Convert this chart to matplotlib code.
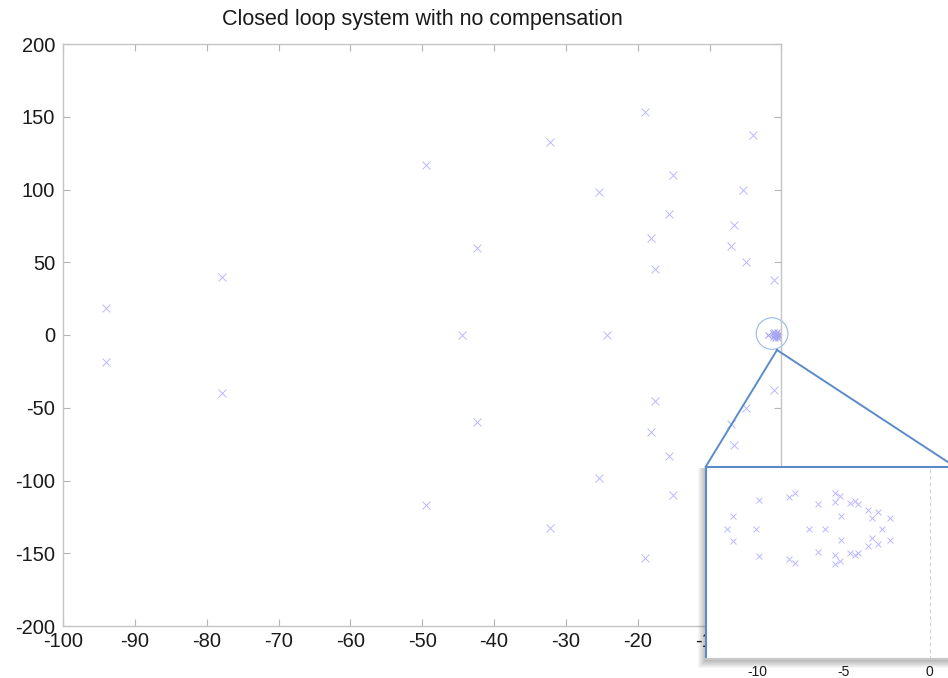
import matplotlib
matplotlib.use('Agg')
import matplotlib.pyplot as plt
from matplotlib.patches import Ellipse, Rectangle
from matplotlib.lines import Line2D

plt.rcParams['font.family'] = ['Liberation Sans', 'DejaVu Sans']
plt.rcParams['axes.unicode_minus'] = False

pole_re = [-94.0, -94.0, -77.9, -77.9, -49.5, -49.5, -42.4, -42.4, -44.4,
           -32.2, -32.2, -19.0, -19.0, -4.0, -4.0, -15.1, -15.1, -25.4, -25.4,
           -5.4, -5.4, -15.6, -15.6, -6.6, -6.6, -18.1, -18.1, -7.0, -7.0,
           -4.9, -4.9, -17.6, -17.6, -1.0, -1.0, -24.3]
pole_im = [18.7, -18.7, 40.0, -40.0, 117.0, -117.0, 59.9, -59.9, 0.0,
           132.5, -132.5, 153.6, -153.6, 137.3, -137.3, 110.3, -110.3, 98.6, -98.6,
           99.8, -99.8, 83.5, -83.5, 75.3, -75.3, 67.0, -67.0, 61.3, -61.3,
           50.3, -50.3, 45.7, -45.7, 37.5, -37.5, 0.0]

# poles crowded near the origin (inside the circle)
near_re = [-1.8, -1.2, -1.1, -1.0, -0.9, -0.8, -0.7, -0.6, -0.5, -0.4, -0.3, -1.0, -0.6]
near_im = [0.0, 1.5, -1.5, 2.0, -2.0, 1.0, -1.0, 2.0, -2.0, 0.8, -0.8, 0.0, 0.0]

# magnified view in the inset
zoom_re = [-9.88, -8.14, -7.83, -6.46, -5.47, -5.22, -5.47, -4.60, -4.31, -4.18,
           -5.16, -3.60, -2.98, -3.35, -2.30, -11.39,
           -11.74, -10.08, -6.98, -6.09, -2.75,
           -11.39, -9.88, -8.14, -7.83, -6.46, -5.47, -5.47, -5.22, -4.60, -4.31,
           -4.18, -5.16, -3.60, -2.98, -3.35, -2.30]
zoom_im = [1.66, 1.82, 2.07, 1.41, 2.07, 1.88, 1.53, 1.49, 1.62, 1.43,
           0.72, 1.08, 0.97, 0.64, 0.64, 0.72,
           0.0, 0.0, 0.0, 0.0, 0.0,
           -0.70, -1.60, -1.78, -1.97, -1.33, -1.55, -2.05, -1.86, -1.39, -1.55,
           -1.41, -0.64, -1.02, -0.89, -0.56, -0.64]

x_ticks = list(range(-100, 1, 10))
y_ticks = list(range(-200, 201, 50))
inset_ticks = [-10, -5, 0]

W, H = 948, 678
mark = '#b9b9ff'
frame = '#5b8cc9'

fig = plt.figure(figsize=(W / 100, H / 100), dpi=100)

def fx(px):
    return px / W

def fy(py):
    return 1 - py / H

ax = fig.add_axes([fx(63), fy(626), 718.4 / W, 582 / H])
ax.plot(pole_re, pole_im, 'x', color=mark, ms=5.5, mew=0.7, ls='none')
ax.plot(near_re, near_im, 'x', color='#a6a6f5', ms=5, mew=0.8, ls='none')
ax.set_xlim(-100, 0)
ax.set_ylim(-200, 200)
ax.set_xticks(x_ticks)
ax.set_yticks(y_ticks)
ax.tick_params(direction='in', top=True, right=True, length=5, width=0.8,
               color='#b5b5b5', labelsize=14.5, labelcolor='#1a1a1a')
ax.tick_params(axis='x', pad=4.5)
ax.tick_params(axis='y', pad=5.5)
for s in ax.spines.values():
    s.set_color('#c4c4c4')
    s.set_linewidth(1.0)
ax.set_title('Closed loop system with no compensation', fontsize=15.5, pad=14,
             color='#1a1a1a')

# magnifier circle
ax.add_patch(Ellipse((-1.3, 1.0), 4.4, 21.7, fill=False, ec='#a5c0e6', lw=0.9,
                     clip_on=False))

# connector lines from circle to inset corners
fig.add_artist(Line2D([fx(777), fx(705.7)], [fy(350), fy(466.7)],
                      transform=fig.transFigure, color=frame, lw=1.4, zorder=2))
fig.add_artist(Line2D([fx(777), fx(955)], [fy(350), fy(466.7)],
                      transform=fig.transFigure, color=frame, lw=1.4, zorder=2))

# soft shadow on the left and below the inset
for i in range(1, 9):
    fig.add_artist(Rectangle((fx(705.7 - i), fy(659 + i + 1)),
                             (955 - 705.7 + 2 * i) / W, (659 - 466.7 + i) / H,
                             transform=fig.transFigure, color='black',
                             alpha=0.035, lw=0, zorder=3))

axins = fig.add_axes([fx(705.7), fy(659), (955 - 705.7) / W, (659 - 466.7) / H])
axins.set_zorder(5)
axins.set_facecolor('white')
axins.plot(zoom_re, zoom_im, 'x', color=mark, ms=4.5, mew=0.7, ls='none')
axins.axvline(0, color='#cfcfcf', ls=(0, (3, 3)), lw=0.8)
axins.set_xlim(-13.0, 1.47)
axins.set_ylim(-7.56, 3.6)
axins.set_xticks(inset_ticks)
axins.set_yticks([])
axins.tick_params(axis='x', length=0, pad=4, labelsize=10, labelcolor='#1a1a1a')
axins.spines['top'].set_color(frame)
axins.spines['left'].set_color(frame)
axins.spines['right'].set_color(frame)
axins.spines['bottom'].set_color('#c8c8c8')
for s in axins.spines.values():
    s.set_linewidth(1.5)

fig.savefig('out.png', dpi=100)
